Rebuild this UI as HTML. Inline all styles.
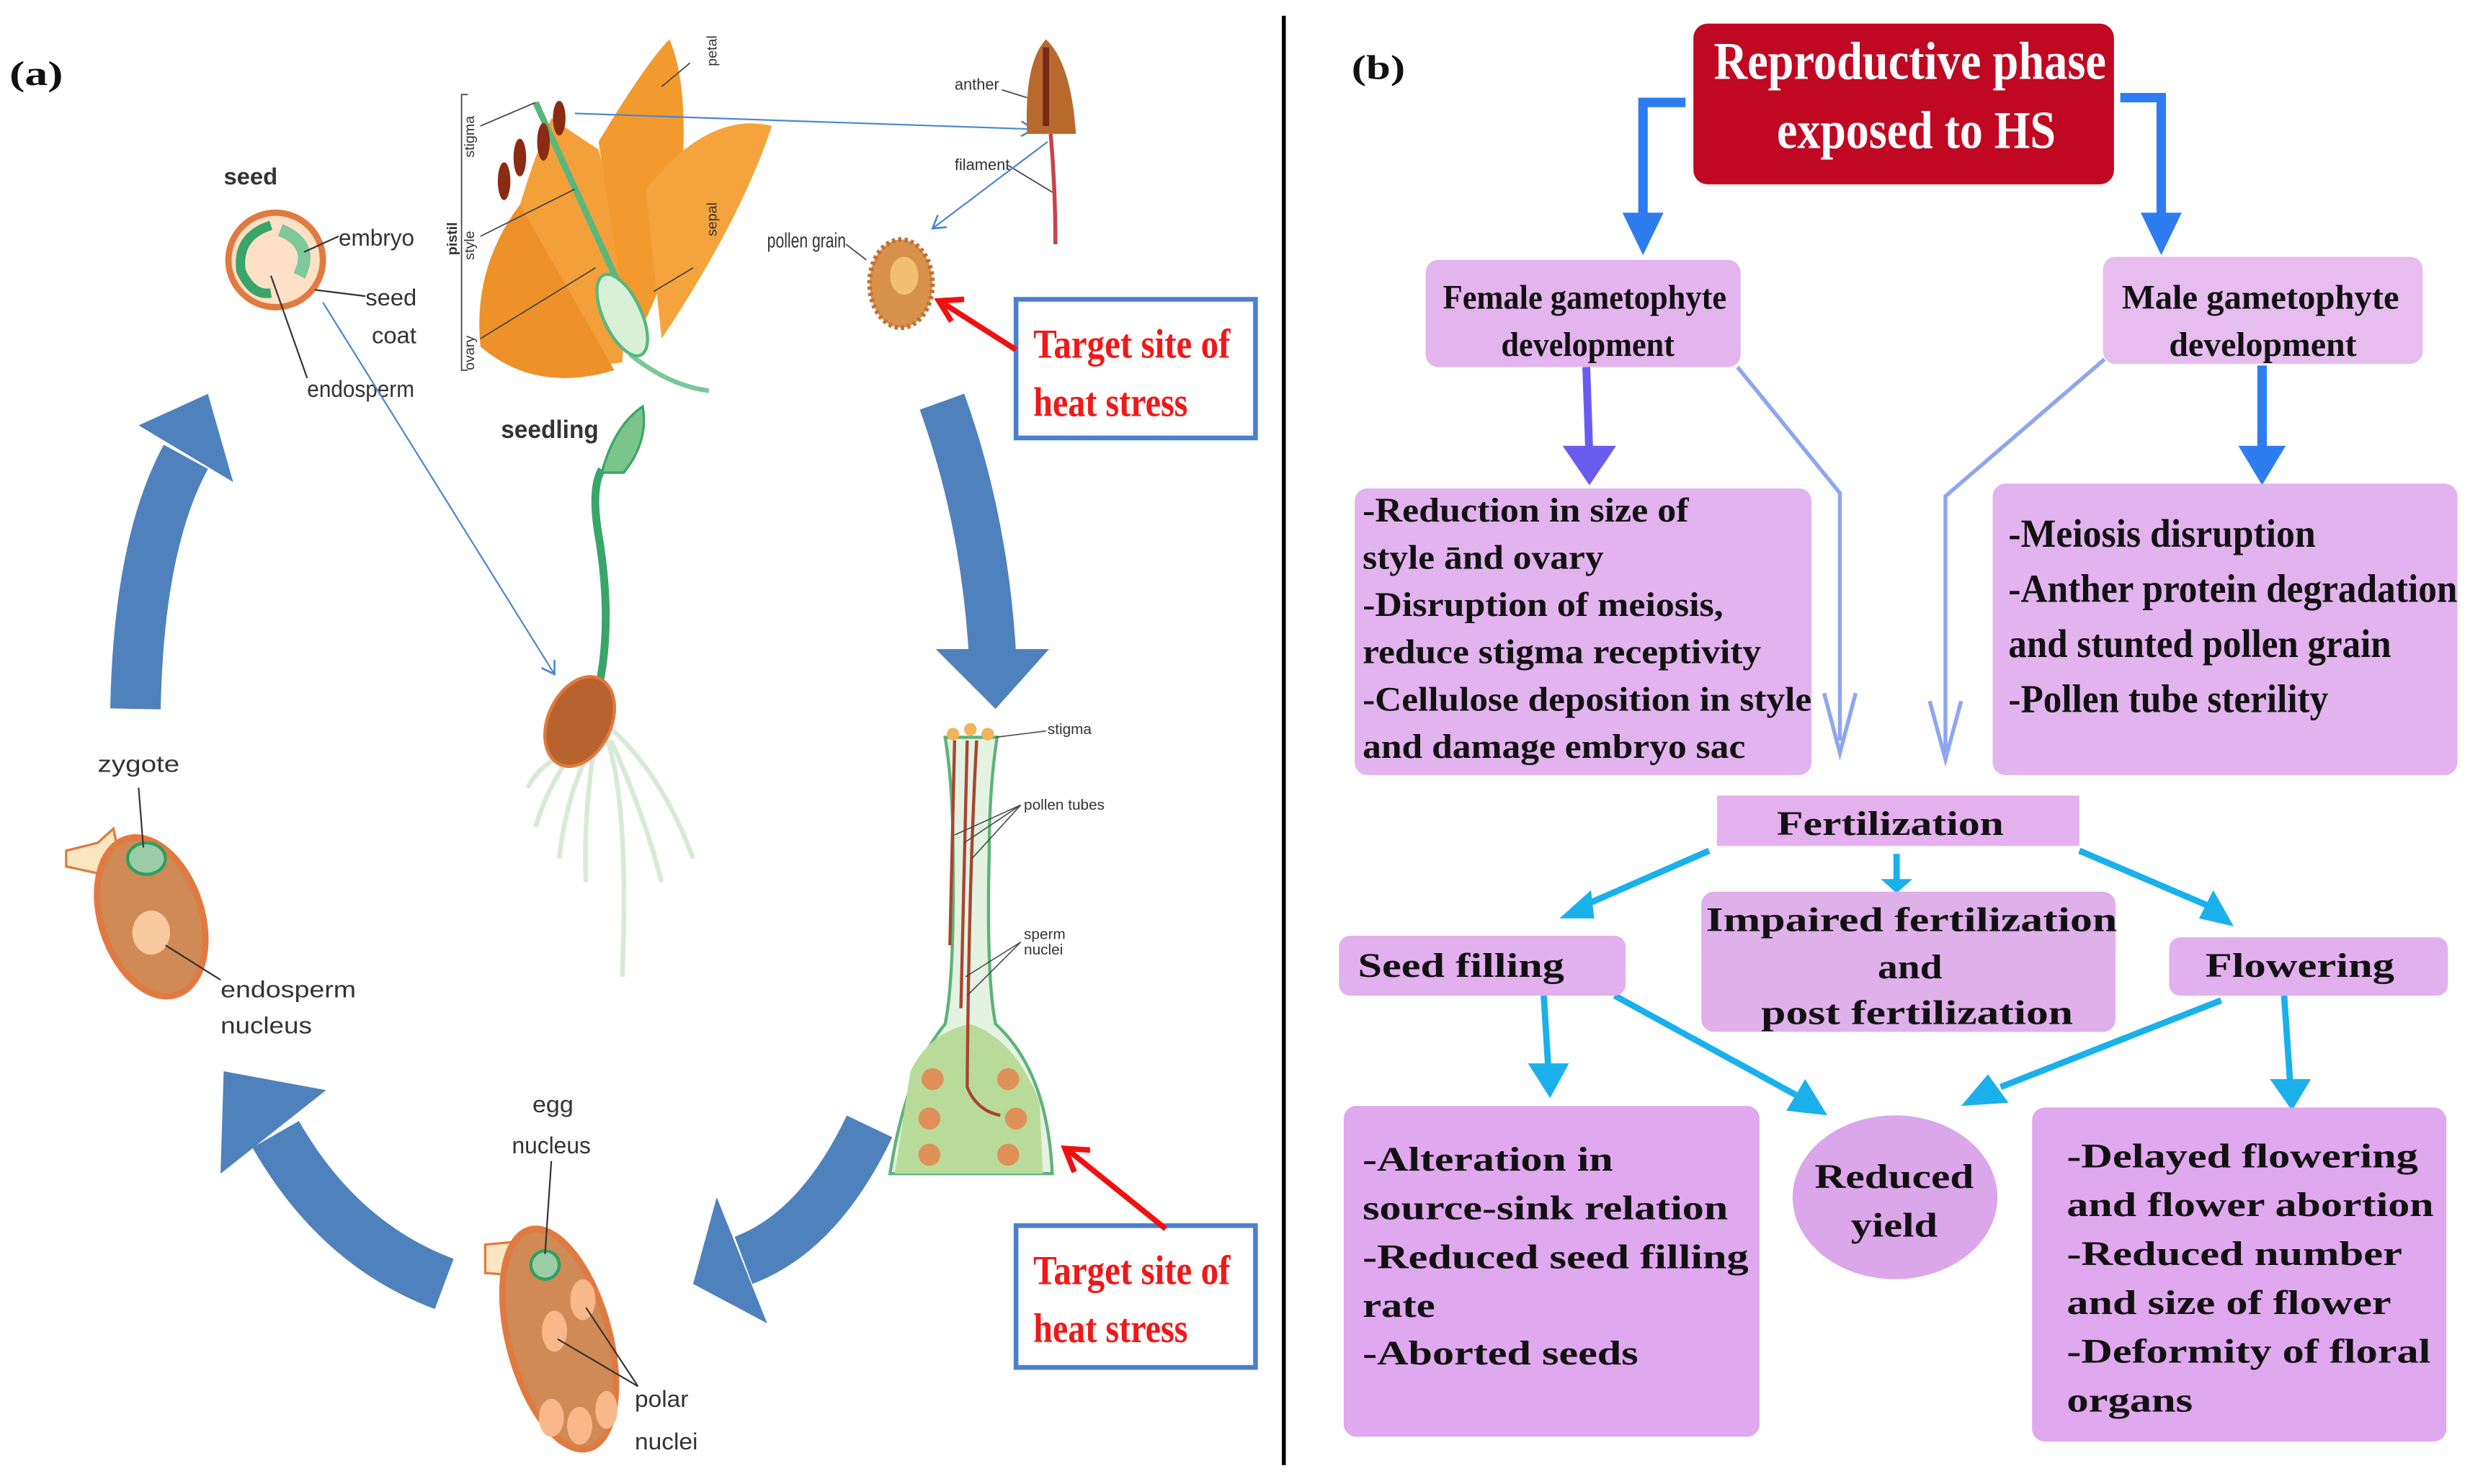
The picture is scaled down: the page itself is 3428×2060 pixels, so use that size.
<!DOCTYPE html>
<html><head><meta charset="utf-8"><style>
html,body{margin:0;padding:0;background:#fff}
svg{display:block}
.s{font-family:"Liberation Sans",sans-serif;fill:#333}
.b{font-family:"Liberation Serif",serif;font-weight:bold;fill:#111}
</style></head><body>
<svg width="3428" height="2060" viewBox="0 0 1568 942" preserveAspectRatio="none" xmlns="http://www.w3.org/2000/svg">
<defs>
<marker id="th" markerWidth="10" markerHeight="10" refX="8" refY="5" orient="auto" markerUnits="userSpaceOnUse"><path d="M0,0 L8,5 L0,10" fill="none" stroke="#4a86d0" stroke-width="1.2"/></marker>
</defs>
<rect width="1568" height="942" fill="#fff"/>
<line x1="815" y1="10" x2="815" y2="930" stroke="#000" stroke-width="2.5"/>
<text x="6" y="54" class="b" font-size="22" textLength="34" lengthAdjust="spacingAndGlyphs">(a)</text>
<text x="858" y="50" class="b" font-size="22" textLength="34" lengthAdjust="spacingAndGlyphs">(b)</text>

<g fill="#4f81bd" stroke="none">
<path d="M86,450 Q88,345 118,290" fill="none" stroke="#4f81bd" stroke-width="32"/>
<polygon points="88,270 148,306 132,250"/>
<path d="M598,255 Q625,330 630,415" fill="none" stroke="#4f81bd" stroke-width="30"/>
<polygon points="594,412 666,412 632,450"/>
<path d="M552,715 Q520,782 472,800" fill="none" stroke="#4f81bd" stroke-width="32"/>
<polygon points="455,760 487,840 440,815"/>
<path d="M282,815 Q215,790 175,720" fill="none" stroke="#4f81bd" stroke-width="34"/>
<polygon points="207,692 140,745 142,680"/>
</g>

<text x="142" y="117" class="s" font-size="15" font-weight="bold" fill="#222">seed</text>
<circle cx="175" cy="165" r="30" fill="#fde0c6" stroke="#e07a40" stroke-width="4"/>
<path d="M172,143 Q150,150 153,172 Q160,188 172,186" fill="none" stroke="#3aa56a" stroke-width="6"/>
<path d="M178,146 Q200,155 190,175" fill="none" stroke="#7ec89a" stroke-width="8"/>
<g class="s" font-size="15"><text x="215" y="156" textLength="48" lengthAdjust="spacingAndGlyphs">embryo</text>
<text x="232" y="194">seed</text><text x="236" y="218">coat</text>
<text x="195" y="252" textLength="68" lengthAdjust="spacingAndGlyphs">endosperm</text></g>
<g stroke="#333" stroke-width="1"><line x1="193" y1="160" x2="215" y2="150"/><line x1="200" y1="184" x2="232" y2="188"/><line x1="172" y1="175" x2="195" y2="240"/></g>
<line x1="205" y1="192" x2="352" y2="428" stroke="#4a86d0" stroke-width="1" marker-end="url(#th)"/>

<g>
<path d="M350,75 Q330,120 315,190 Q330,240 395,230 Q400,170 380,95 Z" fill="#f4a03a"/>
<path d="M380,90 Q410,40 425,25 Q440,60 430,140 Q420,190 400,220 Z" fill="#f39a2e"/>
<path d="M410,120 Q450,70 490,80 Q470,140 420,215 Z" fill="#f5a33c"/>
<path d="M330,130 Q300,170 305,220 Q340,250 390,235 Z" fill="#ee9128"/>
<path d="M400,225 Q425,245 450,248" fill="none" stroke="#7bc79a" stroke-width="3"/>
<path d="M340,65 L395,185" stroke="#58b77c" stroke-width="4" fill="none"/>
<ellipse cx="395" cy="200" rx="12" ry="28" fill="#d9efd8" stroke="#58b77c" stroke-width="2" transform="rotate(-25 395 200)"/>
<g fill="#8b2b14"><ellipse cx="330" cy="100" rx="4" ry="12"/><ellipse cx="345" cy="90" rx="4" ry="12"/><ellipse cx="355" cy="75" rx="4" ry="11"/><ellipse cx="320" cy="115" rx="4" ry="12"/></g>
</g>
<g stroke="#444" stroke-width="0.8" fill="none"><path d="M297,60 L293,60 L293,235 L297,235"/><line x1="305" y1="80" x2="340" y2="65"/><line x1="305" y1="150" x2="365" y2="120"/><line x1="305" y1="215" x2="378" y2="170"/><line x1="420" y1="55" x2="438" y2="40"/><line x1="415" y1="185" x2="440" y2="170"/></g>
<g class="s" font-size="9"><text transform="translate(301,100) rotate(-90)">stigma</text><text transform="translate(301,165) rotate(-90)">style</text><text transform="translate(301,235) rotate(-90)">ovary</text><text transform="translate(290,162) rotate(-90)" font-weight="bold">pistil</text><text transform="translate(455,42) rotate(-90)">petal</text><text transform="translate(455,150) rotate(-90)">sepal</text></g>
<line x1="365" y1="72" x2="656" y2="82" stroke="#4a86d0" stroke-width="1" marker-end="url(#th)"/>

<path d="M652,85 Q650,40 664,25 Q680,40 683,85 Z" fill="#b8692e"/>
<path d="M664,30 L664,80" stroke="#7a2a14" stroke-width="4"/>
<path d="M667,85 Q670,120 670,155" stroke="#c8424a" stroke-width="2.5" fill="none"/>
<g class="s" font-size="10"><text x="606" y="57">anther</text><text x="606" y="108">filament</text><text x="487" y="157" font-size="13" textLength="50" lengthAdjust="spacingAndGlyphs">pollen grain</text></g>
<g stroke="#444" stroke-width="0.8"><line x1="636" y1="57" x2="652" y2="62"/><line x1="640" y1="105" x2="668" y2="122"/><line x1="537" y1="155" x2="550" y2="165"/></g>
<line x1="665" y1="90" x2="592" y2="145" stroke="#4a86d0" stroke-width="1" marker-end="url(#th)"/>
<ellipse cx="572" cy="180" rx="20" ry="28" fill="#d8914a" stroke="#c07030" stroke-width="3" stroke-dasharray="2 2"/>
<ellipse cx="574" cy="175" rx="9" ry="12" fill="#f0c070"/>

<rect x="645" y="190" width="152" height="88" fill="#fff" stroke="#4a7ed0" stroke-width="3"/>
<text x="656" y="227" class="b" font-size="26" style="fill:#f01818" textLength="125" lengthAdjust="spacingAndGlyphs">Target site of</text>
<text x="656" y="264" class="b" font-size="26" style="fill:#f01818" textLength="98" lengthAdjust="spacingAndGlyphs">heat stress</text>
<rect x="645" y="778" width="152" height="90" fill="#fff" stroke="#4a7ed0" stroke-width="3"/>
<text x="656" y="815" class="b" font-size="26" style="fill:#f01818" textLength="125" lengthAdjust="spacingAndGlyphs">Target site of</text>
<text x="656" y="852" class="b" font-size="26" style="fill:#f01818" textLength="98" lengthAdjust="spacingAndGlyphs">heat stress</text>
<g stroke="#f01010" stroke-width="3.5" fill="none"><line x1="645" y1="222" x2="598" y2="192"/><polyline points="612,190 596,191 604,204"/><line x1="740" y1="780" x2="678" y2="730"/><polyline points="692,730 676,729 682,744"/></g>

<text x="318" y="278" class="s" font-size="16" font-weight="bold" fill="#222" textLength="62" lengthAdjust="spacingAndGlyphs">seedling</text>
<path d="M378,445 Q390,400 380,340 Q375,310 382,298" stroke="#3aa56a" stroke-width="5" fill="none"/>
<path d="M382,300 Q390,270 408,258 Q412,280 396,300 Z" fill="#7cc58a" stroke="#3aa56a" stroke-width="1.5"/>
<g stroke="#d7ead5" stroke-width="3" fill="none"><path d="M378,460 Q350,490 340,525"/><path d="M380,460 Q370,510 372,560"/><path d="M382,460 Q400,500 395,620"/><path d="M385,460 Q420,490 440,545"/><path d="M378,470 Q360,500 355,545"/><path d="M388,470 Q410,520 420,560"/><path d="M372,475 Q345,480 335,500"/></g>
<ellipse cx="368" cy="458" rx="20" ry="30" fill="#b8622e" stroke="#e07a40" stroke-width="2" transform="rotate(25 368 458)"/>

<path d="M600,468 Q605,500 605,540 Q606,620 600,650 Q575,680 565,745 L668,745 Q665,680 632,650 Q626,620 628,540 Q628,500 633,468 Z" fill="#e4f2e2" stroke="#5db37b" stroke-width="2"/>
<path d="M578,680 Q590,655 616,650 Q645,660 660,700 L662,745 L568,745 Z" fill="#b9db9a"/>
<g fill="#e0915a"><circle cx="592" cy="685" r="7"/><circle cx="640" cy="685" r="7"/><circle cx="590" cy="710" r="7"/><circle cx="645" cy="710" r="7"/><circle cx="590" cy="733" r="7"/><circle cx="640" cy="733" r="7"/></g>
<g stroke="#a84530" stroke-width="2" fill="none"><line x1="606" y1="470" x2="603" y2="600"/><line x1="614" y1="470" x2="610" y2="640"/><path d="M620,470 Q615,560 614,690 Q620,705 635,708"/></g>
<g fill="#f1b45a"><circle cx="605" cy="466" r="4"/><circle cx="616" cy="463" r="4"/><circle cx="627" cy="466" r="4"/></g>
<g class="s" font-size="9.5"><text x="665" y="466">stigma</text><text x="650" y="514">pollen tubes</text><text x="650" y="596">sperm</text><text x="650" y="606">nuclei</text></g>
<g stroke="#444" stroke-width="0.7"><line x1="632" y1="468" x2="664" y2="464"/><line x1="606" y1="530" x2="648" y2="511"/><line x1="612" y1="535" x2="648" y2="511"/><line x1="617" y1="545" x2="648" y2="511"/><line x1="613" y1="620" x2="648" y2="598"/><line x1="614" y1="632" x2="648" y2="598"/></g>

<text x="62" y="490" class="s" font-size="15" textLength="52" lengthAdjust="spacingAndGlyphs">zygote</text>
<path d="M42,540 L62,535 L72,526 L76,545 L65,555 L42,550 Z" fill="#fbe6c0" stroke="#e07a40" stroke-width="1.5"/>
<ellipse cx="96" cy="582" rx="32" ry="52" fill="#cf8a55" stroke="#e07a40" stroke-width="4" transform="rotate(-18 96 582)"/>
<ellipse cx="93" cy="545" rx="12" ry="10" fill="#9ccca6" stroke="#2ea060" stroke-width="2"/>
<ellipse cx="96" cy="592" rx="12" ry="14" fill="#f9c9a0"/>
<g stroke="#333" stroke-width="1"><line x1="88" y1="500" x2="91" y2="538"/><line x1="105" y1="600" x2="140" y2="622"/></g>
<text x="140" y="633" class="s" font-size="15" textLength="86" lengthAdjust="spacingAndGlyphs">endosperm</text>
<text x="140" y="656" class="s" font-size="15" textLength="58" lengthAdjust="spacingAndGlyphs">nucleus</text>

<text x="338" y="706" class="s" font-size="15" textLength="26" lengthAdjust="spacingAndGlyphs">egg</text>
<text x="325" y="732" class="s" font-size="15" textLength="50" lengthAdjust="spacingAndGlyphs">nucleus</text>
<path d="M308,790 L330,788 L340,782 L342,800 L332,810 L308,808 Z" fill="#fbe6c0" stroke="#e07a40" stroke-width="1.5"/>
<ellipse cx="355" cy="850" rx="32" ry="72" fill="#cf8a55" stroke="#e07a40" stroke-width="4" transform="rotate(-15 355 850)"/>
<ellipse cx="346" cy="803" rx="9" ry="9" fill="#9ccca6" stroke="#2ea060" stroke-width="2"/>
<g fill="#f9b88a"><ellipse cx="370" cy="825" rx="8" ry="13"/><ellipse cx="352" cy="845" rx="8" ry="13"/><ellipse cx="350" cy="900" rx="8" ry="12"/><ellipse cx="368" cy="905" rx="8" ry="12"/><ellipse cx="385" cy="895" rx="7" ry="12"/></g>
<g stroke="#333" stroke-width="1"><line x1="350" y1="737" x2="346" y2="796"/><line x1="372" y1="830" x2="405" y2="880"/><line x1="354" y1="850" x2="405" y2="880"/></g>
<text x="403" y="893" class="s" font-size="15" textLength="34" lengthAdjust="spacingAndGlyphs">polar</text>
<text x="403" y="920" class="s" font-size="15" textLength="40" lengthAdjust="spacingAndGlyphs">nuclei</text>

<rect x="1075" y="15" width="267" height="102" rx="9" fill="#c00822"/>
<text x="1088" y="50" class="b" font-size="34" style="fill:#fff" textLength="249" lengthAdjust="spacingAndGlyphs">Reproductive phase</text>
<text x="1128" y="94" class="b" font-size="34" style="fill:#fff" textLength="177" lengthAdjust="spacingAndGlyphs">exposed to HS</text>

<g stroke="#2d7cf0" stroke-width="6" fill="none"><polyline points="1070,65 1043,65 1043,140"/><polyline points="1346,62 1372,62 1372,140"/><line x1="1436" y1="232" x2="1436" y2="290"/></g>
<g fill="#2d7cf0"><polygon points="1030,135 1056,135 1043,162"/><polygon points="1359,135 1385,135 1372,162"/><polygon points="1421,283 1451,283 1436,308"/></g>
<line x1="1007" y1="233" x2="1009" y2="290" stroke="#6b5cf0" stroke-width="5"/>
<polygon points="992,283 1026,283 1009,308" fill="#6b5cf0"/>

<rect x="905" y="165" width="200" height="68" rx="8" fill="#e4b4ee"/>
<text x="916" y="196" class="b" font-size="22" textLength="180" lengthAdjust="spacingAndGlyphs">Female gametophyte</text>
<text x="953" y="226" class="b" font-size="22" textLength="110" lengthAdjust="spacingAndGlyphs">development</text>
<rect x="1335" y="163" width="203" height="68" rx="8" fill="#e6bdee"/>
<text x="1347" y="196" class="b" font-size="22" textLength="176" lengthAdjust="spacingAndGlyphs">Male gametophyte</text>
<text x="1377" y="226" class="b" font-size="22" textLength="119" lengthAdjust="spacingAndGlyphs">development</text>

<g stroke="#8ea6f0" stroke-width="2.5" fill="none"><polyline points="1103,233 1168,313 1168,470"/><polyline points="1336,228 1235,315 1235,480"/><polyline points="1158,440 1168,478 1178,440"/><polyline points="1225,445 1235,482 1245,445"/></g>

<rect x="860" y="310" width="290" height="182" rx="8" fill="#e2b3ee"/>
<g class="b" font-size="22">
<text x="865" y="331" textLength="207" lengthAdjust="spacingAndGlyphs">-Reduction in size of</text>
<text x="865" y="361" textLength="153" lengthAdjust="spacingAndGlyphs">style ānd ovary</text>
<text x="865" y="391" textLength="229" lengthAdjust="spacingAndGlyphs">-Disruption of meiosis,</text>
<text x="865" y="421" textLength="253" lengthAdjust="spacingAndGlyphs">reduce stigma receptivity</text>
<text x="865" y="451" textLength="285" lengthAdjust="spacingAndGlyphs">-Cellulose deposition in style</text>
<text x="865" y="481" textLength="243" lengthAdjust="spacingAndGlyphs">and damage embryo sac</text>
</g>
<rect x="1265" y="307" width="295" height="185" rx="8" fill="#e2b3ee"/>
<g class="b" font-size="25">
<text x="1275" y="347" textLength="195" lengthAdjust="spacingAndGlyphs">-Meiosis disruption</text>
<text x="1275" y="382" textLength="285" lengthAdjust="spacingAndGlyphs">-Anther protein degradation</text>
<text x="1275" y="417" textLength="243" lengthAdjust="spacingAndGlyphs">and stunted pollen grain</text>
<text x="1275" y="452" textLength="203" lengthAdjust="spacingAndGlyphs">-Pollen tube sterility</text>
</g>

<rect x="1090" y="505" width="230" height="32" fill="#e4b0ee"/>
<text x="1128" y="530" class="b" font-size="22" textLength="144" lengthAdjust="spacingAndGlyphs">Fertilization</text>

<g stroke="#19b0ec" stroke-width="4" fill="none"><line x1="1085" y1="540" x2="1005" y2="575"/><line x1="1204" y1="542" x2="1204" y2="560"/><line x1="1320" y1="540" x2="1402" y2="575"/><line x1="980" y1="632" x2="983" y2="680"/><line x1="1025" y1="632" x2="1140" y2="695"/><line x1="1410" y1="635" x2="1270" y2="690"/><line x1="1450" y1="632" x2="1454" y2="690"/></g>
<g fill="#19b0ec"><polygon points="990,583 1010,565 1012,583"/><polygon points="1194,558 1214,558 1204,567"/><polygon points="1418,588 1396,583 1405,565"/><polygon points="970,675 996,675 984,697"/><polygon points="1160,708 1134,705 1146,685"/><polygon points="1245,702 1262,682 1275,700"/><polygon points="1441,685 1467,685 1455,705"/></g>

<rect x="850" y="594" width="182" height="38" rx="7" fill="#e2b0ee"/>
<text x="862" y="620" class="b" font-size="22" textLength="131" lengthAdjust="spacingAndGlyphs">Seed filling</text>
<rect x="1080" y="566" width="263" height="89" rx="8" fill="#e0b0ea"/>
<text x="1083" y="591" class="b" font-size="22" textLength="261" lengthAdjust="spacingAndGlyphs">Impaired fertilization</text>
<text x="1192" y="621" class="b" font-size="22" textLength="41" lengthAdjust="spacingAndGlyphs">and</text>
<text x="1118" y="650" class="b" font-size="22" textLength="198" lengthAdjust="spacingAndGlyphs">post fertilization</text>
<rect x="1377" y="595" width="177" height="37" rx="7" fill="#e2b0ee"/>
<text x="1400" y="620" class="b" font-size="22" textLength="120" lengthAdjust="spacingAndGlyphs">Flowering</text>

<ellipse cx="1203" cy="760" rx="65" ry="52" fill="#dca6ea"/>
<text x="1152" y="754" class="b" font-size="22" textLength="101" lengthAdjust="spacingAndGlyphs">Reduced</text>
<text x="1175" y="785" class="b" font-size="22" textLength="55" lengthAdjust="spacingAndGlyphs">yield</text>

<rect x="853" y="702" width="264" height="210" rx="8" fill="#e0a8ee"/>
<g class="b" font-size="22">
<text x="865" y="743" textLength="159" lengthAdjust="spacingAndGlyphs">-Alteration in</text>
<text x="865" y="774" textLength="232" lengthAdjust="spacingAndGlyphs">source-sink relation</text>
<text x="865" y="805" textLength="245" lengthAdjust="spacingAndGlyphs">-Reduced seed filling</text>
<text x="865" y="836" textLength="46" lengthAdjust="spacingAndGlyphs">rate</text>
<text x="865" y="866" textLength="175" lengthAdjust="spacingAndGlyphs">-Aborted seeds</text>
</g>
<rect x="1290" y="703" width="263" height="212" rx="8" fill="#e0a8ee"/>
<g class="b" font-size="22">
<text x="1312" y="741" textLength="223" lengthAdjust="spacingAndGlyphs">-Delayed flowering</text>
<text x="1312" y="772" textLength="233" lengthAdjust="spacingAndGlyphs">and flower abortion</text>
<text x="1312" y="803" textLength="213" lengthAdjust="spacingAndGlyphs">-Reduced number</text>
<text x="1312" y="834" textLength="206" lengthAdjust="spacingAndGlyphs">and size of flower</text>
<text x="1312" y="865" textLength="231" lengthAdjust="spacingAndGlyphs">-Deformity of floral</text>
<text x="1312" y="896" textLength="80" lengthAdjust="spacingAndGlyphs">organs</text>
</g>
</svg>
</body></html>
